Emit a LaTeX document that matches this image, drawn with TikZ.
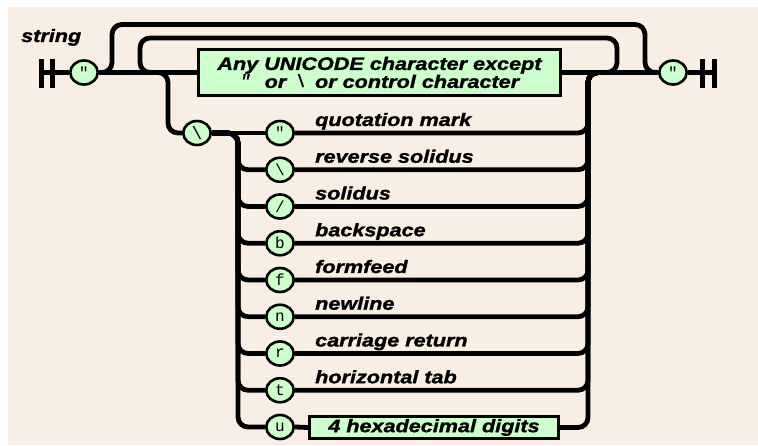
\documentclass[tikz,border=0pt]{standalone}
\usepackage{fontspec}
\setmainfont{Liberation Sans}[FakeStretch=1.2, BoldItalicFeatures={FakeBold=1.5}]
\newfontfamily\monof{Liberation Mono}
\usetikzlibrary{shapes.geometric,backgrounds}
\definecolor{bg}{RGB}{249,238,228}
\definecolor{grn}{RGB}{204,255,204}
\begin{document}
\begin{tikzpicture}[x=1pt,y=-1pt,
  rail/.style={line width=4.8pt, rounded corners=10pt},
  term/.style={ellipse, draw, line width=2.6pt, fill=grn, minimum width=27.5pt, minimum height=24pt, inner sep=0pt, font=\monof\fontsize{16}{16}\selectfont},
  nonterm/.style={rectangle, draw, line width=2.6pt, fill=grn, inner sep=0pt, font=\fontsize{18}{19}\selectfont\bfseries\itshape, align=center},
  lab/.style={anchor=base west, inner sep=0pt, font=\fontsize{18}{19}\selectfont\bfseries\itshape},
  bar/.style={line width=5pt}]
\useasboundingbox (0,0) rectangle (758,446);

% title
\node[lab] (title) at (21,42) {string};

% main line nodes
\coordinate (sb) at (41,72.5);
\coordinate (eb) at (714.5,72.5);
\node[term] (q1) at (84,72.5) {"};
\node[nonterm, minimum width=362pt, minimum height=46pt] (any) at (379.5,72.5)
  {Any UNICODE character except\\[-1pt]{\monof\bfseries "}\hspace{14pt}or\hspace{9pt}{\monof\bfseries\textbackslash}\hspace{9pt}or control character};
\node[term] (q2) at (673,72.5) {"};

% escape
\node[term] (esc) at (197,133) {\fontsize{18}{18}\selectfont\textbackslash};

\foreach \i/\ch/\txt in {0/"/quotation mark,1/\textbackslash/reverse solidus,2/\slash/solidus,3/b/backspace,4/f/formfeed,5/n/newline,6/r/carriage return,7/t/horizontal tab}{
  \node[term] (c\i) at (280,133+36.75*\i) {\ch};
  \node[lab] (l\i) at (315,126+36.75*\i) {\txt};
}
\node[term] (c8) at (280,427) {u};
\node[nonterm, minimum width=249pt, minimum height=22pt] (hex) at (434,427.5) {4 hexadecimal digits};

\begin{scope}[on background layer]
\fill[bg] (8,7) rectangle (758,445);
% bars
\draw[bar] (41,59) -- (41,88) (52.5,59) -- (52.5,88);
\draw[bar] (702.5,59) -- (702.5,88) (714.5,59) -- (714.5,88);

% main line
\draw[rail] (sb) -- (q1.west);
\draw[rail] (q1.east) -- (any.west);
\draw[rail] (any.east) -- (q2.west);
\draw[rail] (q2.east) -- (eb);

% outer loop (empty string)
\draw[rail] (q1.east) -| (112,24.5) -| (645,72.5) -- (q2.west);
% inner loop (repeat)
\draw[rail] (605,72.5) -| (617,38) -| (140,72.5) -- (150,72.5);
% escape branch
\draw[rail] (150,72.5) -| (168,133) -- (esc.west);
\draw[rail] (esc.east) -- (c0.west);
\foreach \i in {1,...,8}{
  \draw[rail] (esc.east) -| (238,133+36.75*\i) -- (c\i.west);
}
\foreach \i in {0,...,7}{
  \draw[rail] (c\i.east) -| (588,72.5) -- (605,72.5);
}
\draw[rail] (c8.east) -- (hex.west);
\draw[rail] (hex.east) -| (588,72.5) -- (605,72.5);
\end{scope}
\end{tikzpicture}
\end{document}
